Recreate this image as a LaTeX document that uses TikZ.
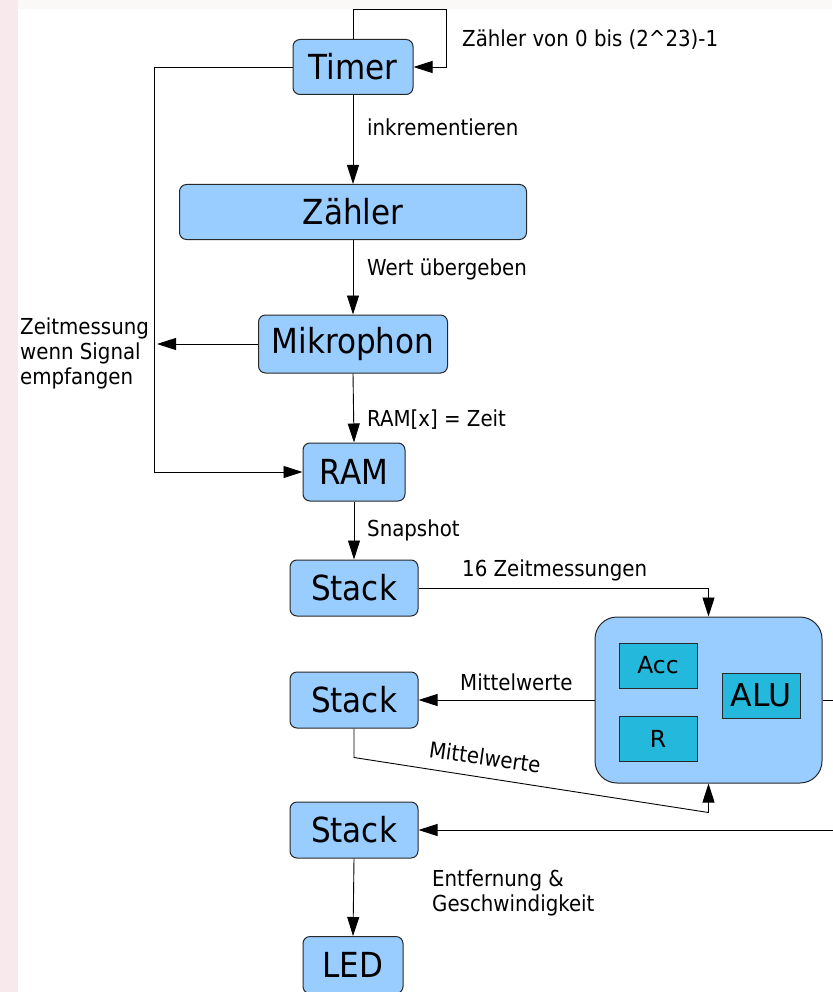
\documentclass[tikz,border=0pt]{standalone}
\usepackage{fontspec}
\setmainfont{DejaVu Sans Condensed}
\newfontfamily\regfont{DejaVu Sans}
\usetikzlibrary{arrows.meta,positioning}
\definecolor{boxblue}{RGB}{153,204,255}
\definecolor{regteal}{RGB}{35,184,220}
\definecolor{edgegray}{RGB}{40,40,40}
\definecolor{leftpink}{RGB}{248,234,236}
\definecolor{topwhite}{RGB}{251,249,247}

\begin{document}
\begin{tikzpicture}[x=1pt,y=-1pt]
\tikzset{
  block/.style={draw=edgegray,line width=1pt,fill=boxblue,rounded corners=7pt,inner sep=0pt,font=\fontsize{34.5}{36}\selectfont},
  reg/.style={draw=edgegray,line width=1pt,fill=regteal,inner sep=0pt,minimum width=78pt,minimum height=45pt},
  flow/.style={-{Triangle[length=19pt,width=12pt]},line width=0.9pt},
  lbl/.style={anchor=west,inner sep=0pt,font=\fontsize{22}{25}\selectfont}
}
\useasboundingbox (0,0) rectangle (832,992);
\fill[white] (0,0) rectangle (832,992);
\fill[leftpink] (0,0) rectangle (18,992);
\fill[topwhite] (18,0) rectangle (832,9);
% blocks
\node[block,minimum width=120pt,minimum height=55pt] (n_timer) at (353,67) {Timer};
\node[block,minimum width=347pt,minimum height=55pt] (n_zaehler) at (353,212) {Zähler};
\node[block,minimum width=189pt,minimum height=58pt] (n_mikro) at (353,344) {Mikrophon};
\node[block,minimum width=102pt,minimum height=58pt] (n_ram) at (354,472) {RAM};
\node[block,minimum width=128pt,minimum height=56pt] (n_stack1) at (354,588) {Stack};
\node[block,minimum width=128pt,minimum height=56pt] (n_stack2) at (354,700) {Stack};
\node[block,minimum width=128pt,minimum height=56pt] (n_stack3) at (354,830) {Stack};
\node[block,minimum width=100pt,minimum height=57pt] (n_led) at (353,965) {LED};
\node[block,rounded corners=22pt,minimum width=227pt,minimum height=166pt] (n_alublock) at (708.5,700) {};
\node[reg,font=\regfont\fontsize{23.5}{25}\selectfont] (n_acc) at (658,665.5) {Acc};
\node[reg,font=\regfont\fontsize{23.5}{25}\selectfont] (n_r) at (658,739) {R};
\node[reg,font=\regfont\fontsize{31.5}{33}\selectfont] (n_alu) at (761,695.5) {ALU};
\coordinate (c_signal) at (157,344);
% labels
\node[lbl] (l_loop) at (462,40) {Zähler von 0 bis (2\textasciicircum 23)-1};
\node[lbl] (l_inkr) at (367,127) {inkrementieren};
\node[lbl] (l_wert) at (367,269) {Wert übergeben};
\node[lbl] (l_ramx) at (367,420) {RAM[x] = Zeit};
\node[lbl] (l_snap) at (367,530) {Snapshot};
\node[lbl] (l_zeitm) at (462,570) {16 Zeitmessungen};
\node[lbl] (l_mittel) at (460,682) {Mittelwerte};
\node[lbl,anchor=center,rotate=-8] (l_mittel2) at (485,757) {Mittelwerte};
\node[lbl,align=left] (l_signal) at (20,353) {Zeitmessung\\wenn Signal\\empfangen};
\node[lbl,align=left] (l_entf) at (432,893) {Entfernung \&\\Geschwindigkeit};
% connectors
\draw[flow] (n_timer.north) -- ++(0,-30) -| ([xshift=33pt]n_timer.east) -- (n_timer.east);
\draw[flow] (n_timer.west) -- ++(-138,0) |- (n_ram.west);
\draw[flow] (n_timer.south) -- (n_zaehler.north);
\draw[flow] (n_zaehler.south) -- (n_mikro.north);
\draw[flow] (n_mikro.west) -- (c_signal);
\draw[flow] (n_mikro.south) -- (n_ram.north);
\draw[flow] (n_ram.south) -- (n_stack1.north);
\draw[flow] (n_stack1.east) -| (n_alublock.north);
\draw[flow] (n_alublock.west) -- (n_stack2.east);
\draw[flow] (n_stack2.south) -- ++(0,29) -- ([yshift=-29pt]n_alublock.south) -- (n_alublock.south);
\draw[flow] (n_alublock.east) -- ++(30,0) |- (n_stack3.east);
\draw[flow] (n_stack3.south) -- (n_led.north);
\end{tikzpicture}
\end{document}
